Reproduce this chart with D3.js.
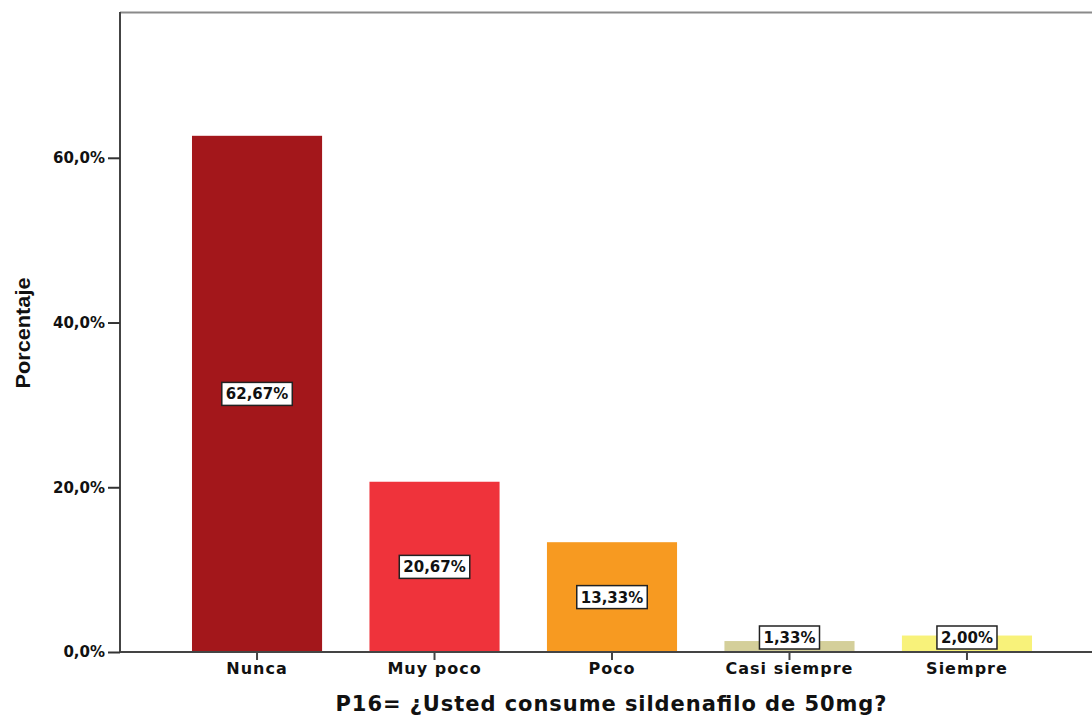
<!DOCTYPE html>
<html>
<head>
<meta charset="utf-8">
<script src="https://cdn.jsdelivr.net/npm/d3@7/dist/d3.min.js"></script>
<style>
  html, body { margin: 0; padding: 0; background: #fff; }
  svg { display: block; }
</style>
</head>
<body>
<svg id="chart" width="1092" height="716"></svg>
<script>
const categories = ["Nunca", "Muy poco", "Poco", "Casi siempre", "Siempre"];
const values = [62.67, 20.67, 13.33, 1.33, 2.00];
const labels = ["62,67%", "20,67%", "13,33%", "1,33%", "2,00%"];
const colors = ["#a3171b", "#ef333b", "#f79a21", "#d4cf9a", "#f8f27a"];
const yTicks = [0, 20, 40, 60];
const yTickLabels = ["0,0%", "20,0%", "40,0%", "60,0%"];
const xTitle = "P16= ¿Usted consume sildenafilo de 50mg?";
const yTitle = "Porcentaje";

const W = 1092, H = 716;
const mLeft = 120, mTop = 12, mBottom = 652;
const svg = d3.select("#chart");
const FONT = "'DejaVu Sans', Verdana, sans-serif";

const y = d3.scaleLinear().domain([0, 77.7]).range([mBottom, mTop]);
const x = d3.scaleBand().domain(categories).range([mLeft, 1104])
  .paddingInner(0.267).paddingOuter(0.4056);

// bars
svg.selectAll("rect.bar").data(values).enter().append("rect")
  .attr("class", "bar")
  .attr("x", (d, i) => x(categories[i]))
  .attr("width", x.bandwidth())
  .attr("y", d => y(d))
  .attr("height", d => y(0) - y(d))
  .attr("fill", (d, i) => colors[i]);

// frame
svg.append("line").attr("x1", mLeft).attr("x2", W).attr("y1", mTop + 0.5).attr("y2", mTop + 0.5)
  .attr("stroke", "#8a8a8a").attr("stroke-width", 2);

// y axis
const yAxis = d3.axisLeft(y).tickValues(yTicks).tickSize(12)
  .tickFormat((d, i) => yTickLabels[i]);
const gy = svg.append("g").attr("transform", `translate(${mLeft},0)`).call(yAxis);
gy.select(".domain").attr("stroke", "#444").attr("stroke-width", 2).attr("d", `M0,${mTop}V${mBottom}`);
gy.selectAll(".tick line").attr("stroke", "#333").attr("stroke-width", 2);
gy.selectAll(".tick text").attr("x", -15)
  .style("font-family", FONT).style("font-weight", "bold")
  .style("font-size", "15px").attr("fill", "#111");

// x axis
const xAxis = d3.axisBottom(x).tickSize(8).tickSizeOuter(0);
const gx = svg.append("g").attr("transform", `translate(0,${mBottom})`).call(xAxis);
gx.select(".domain").attr("stroke", "#444").attr("stroke-width", 2).attr("d", `M${mLeft},0H${W}`);
gx.selectAll(".tick line").attr("stroke", "#444").attr("stroke-width", 2);
gx.selectAll(".tick text").attr("y", 11)
  .style("font-family", FONT).style("font-weight", "bold")
  .style("font-size", "16px").style("letter-spacing", "1px").attr("fill", "#111");

// value labels
const lab = svg.selectAll("g.lab").data(values).enter().append("g").attr("class", "lab")
  .attr("transform", (d, i) => {
    const cx = x(categories[i]) + x.bandwidth() / 2;
    const cy = Math.min((y(d) + y(0)) / 2, y(0) - 14.5);
    return `translate(${cx},${cy})`;
  });
lab.append("text").text((d, i) => labels[i])
  .attr("text-anchor", "middle").attr("dy", "0.36em")
  .style("font-family", FONT).style("font-weight", "bold")
  .style("font-size", "15px").attr("fill", "#111");
lab.each(function() {
  const g = d3.select(this);
  const bb = g.select("text").node().getBBox();
  g.insert("rect", "text")
    .attr("x", bb.x - 4).attr("y", -11.5).attr("width", bb.width + 8).attr("height", 23)
    .attr("fill", "#fff").attr("stroke", "#222").attr("stroke-width", 1.5);
});

// titles
svg.append("text").text(xTitle)
  .attr("x", 611).attr("y", 711).attr("text-anchor", "middle")
  .attr("textLength", 551).attr("lengthAdjust", "spacing")
  .style("font-family", FONT).style("font-weight", "bold")
  .style("font-size", "21px").attr("fill", "#111");
svg.append("text").text(yTitle)
  .attr("transform", "translate(30,333) rotate(-90)").attr("text-anchor", "middle")
  .attr("textLength", 111).attr("lengthAdjust", "spacingAndGlyphs")
  .style("font-family", "'Liberation Sans', Arial, sans-serif").style("font-weight", "bold")
  .style("font-size", "20px").attr("fill", "#111");
</script>
</body>
</html>
